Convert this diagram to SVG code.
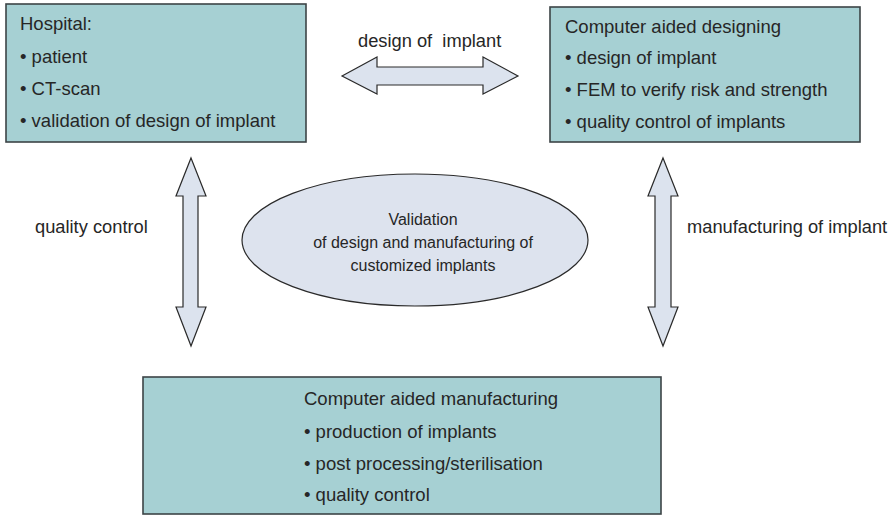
<svg xmlns="http://www.w3.org/2000/svg" width="896" height="515" viewBox="0 0 896 515">
<style>
.box{fill:#a6d0d3;stroke:#3c4446;stroke-width:1.6}
.arr{fill:#dce3ee;stroke:#2a2a2a;stroke-width:1.2;stroke-linejoin:miter}
.ell{fill:#dde3ee;stroke:#2a2a2a;stroke-width:1.2}
text{font-family:"Liberation Sans",Arial,sans-serif;fill:#262626}
.t{font-size:18.5px}
.l{font-size:18.3px}
.e{font-size:16px;text-anchor:middle}
</style>
<rect width="896" height="515" fill="#ffffff"/>
<g id="hospital">
<rect class="box" x="6" y="4" width="300" height="138"/>
<text class="t" x="20" y="30">Hospital:</text>
<text class="t" x="20" y="63">• patient</text>
<text class="t" x="20" y="95">• CT-scan</text>
<text class="t" x="20" y="127">• validation of design of implant</text>
</g>
<g id="cad">
<rect class="box" x="550" y="7" width="310" height="135"/>
<text class="t" x="565" y="33">Computer aided designing</text>
<text class="t" x="565" y="64">• design of implant</text>
<text class="t" x="565" y="96">• FEM to verify risk and strength</text>
<text class="t" x="565" y="128">• quality control of implants</text>
</g>
<g id="cam">
<rect class="box" x="143" y="377" width="518" height="137"/>
<text class="t" x="304" y="405">Computer aided manufacturing</text>
<text class="t" x="304" y="438">• production of implants</text>
<text class="t" x="304" y="470">• post processing/sterilisation</text>
<text class="t" x="304" y="501">• quality control</text>
</g>
<g id="validation">
<ellipse class="ell" cx="415" cy="240" rx="173" ry="66"/>
<text class="e" x="423" y="225">Validation</text>
<text class="e" x="423" y="248">of design and manufacturing of</text>
<text class="e" x="423" y="271">customized implants</text>
</g>
<g id="connectors">
<polygon class="arr" points="342,76 377,57 377,67 483,67 483,57 518,76 483,94 483,85 377,85 377,94"/>
<polygon class="arr" points="191,158 206,196 198,196 198,307 206,307 191,346 176,307 183,307 183,196 176,196"/>
<polygon class="arr" points="663,158 678,196 671,196 671,307 678,307 663,346 648,307 655,307 655,196 648,196"/>
<text class="l" x="358" y="47" xml:space="preserve">design of  implant</text>
<text class="l" x="35" y="233">quality control</text>
<text class="l" x="687" y="233">manufacturing of implant</text>
</g>
</svg>
